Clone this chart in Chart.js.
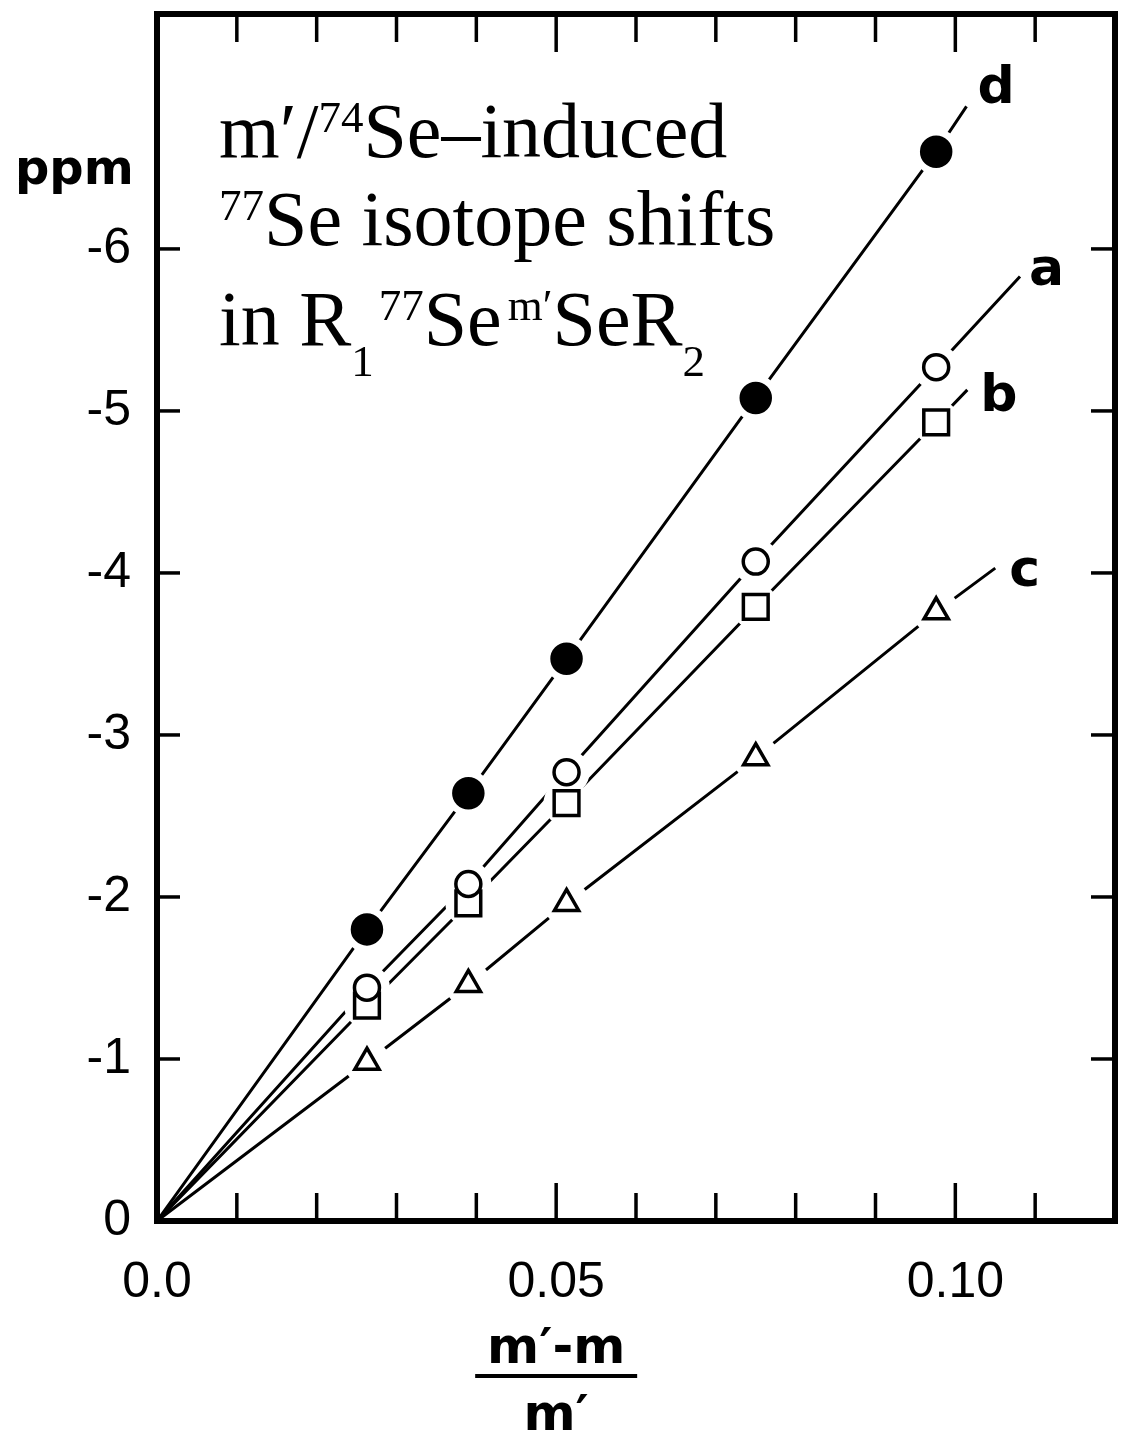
<!DOCTYPE html>
<html>
<head>
<meta charset="utf-8">
<title>77Se isotope shifts</title>
<script src="https://cdn.jsdelivr.net/npm/chart.js@4.4.1/dist/chart.umd.min.js"></script>
<style>
  html, body { margin: 0; padding: 0; background: #fff; }
  #wrap { width: 1122px; height: 1438px; }
</style>
</head>
<body>
<div id="wrap"><canvas id="shiftChart" width="1122" height="1438"></canvas></div>
<script>
// --- data ---
// x = (m'-m)/m' for m' = 76, 77, 78, 80, 82 (m = 74)
const massRatio = [0.0263, 0.0390, 0.0513, 0.0750, 0.0976];

// isotope shifts in ppm, one array per compound
const shiftA = [-1.44, -2.08, -2.77, -4.07, -5.27];
const shiftB = [-1.33, -1.96, -2.58, -3.79, -4.93];
const shiftC = [-0.98, -1.46, -1.96, -2.86, -3.76];
const shiftD = [-1.80, -2.64, -3.47, -5.08, -6.60];

const seriesLabels = ['a', 'b', 'c', 'd'];
// each line runs on a bit past its last point, up to the letter
const lineEndX = [0.1081, 0.1015, 0.1050, 0.1014];
const lineEndY = [-5.83, -5.13, -4.03, -6.88];

const xLabelValues = [0, 0.05, 0.10];
const xTickLabels = ['0.0', '0.05', '0.10'];
const yTickValues = [0, -1, -2, -3, -4, -5, -6];

// --- styles ---
const INK = '#000';
const allShifts = [shiftA, shiftB, shiftC, shiftD];
const markers = [
    { style: 'circle',   radius: 12.5, fill: '#fff' },
    { style: 'rect',     radius: 17.5, fill: '#fff' },
    { style: 'triangle', radius: 14,   fill: '#fff' },
    { style: 'circle',   radius: 14.5, fill: INK }
];
// where the letter sits relative to the end of its line (px)
const labelOffset = [[9, 9], [13, 21], [14, 18], [11, -3]];

const datasets = [];
allShifts.forEach((vals, i) => {
    const pts = massRatio.map((x, j) => ({ x, y: vals[j] }));
    const m = markers[i];
    // line from the origin through the points
    datasets.push({
        data: [{ x: 0, y: 0 }, ...pts, { x: lineEndX[i], y: lineEndY[i] }],
        showLine: true, borderColor: INK, borderWidth: 3, tension: 0,
        pointRadius: 0, order: 3
    });
    // white cut-out so the line stops short of the marker
    datasets.push({
        data: pts, showLine: false, pointStyle: 'circle', pointRadius: 23,
        pointBackgroundColor: '#fff', pointBorderWidth: 0, order: 2
    });
    datasets.push({
        data: pts, showLine: false, pointStyle: m.style, pointRadius: m.radius,
        pointBackgroundColor: m.fill, pointBorderColor: INK, pointBorderWidth: 3.5,
        order: 1
    });
});

// title lines: [text, 'n' | 'sup' | 'sub', extra gap before]
const titleLines = [
    [['m\u2032/', 'n', 0], ['74', 'sup', 0], ['Se\u2013induced', 'n', 0]],
    [['77', 'sup', 0], ['Se isotope shifts', 'n', 0]],
    [['in R', 'n', 0], ['1', 'sub', 0], ['77', 'sup', 5], ['Se', 'n', 0], ['m\u2032', 'sup', 6], ['SeR', 'n', 0], ['2', 'sub', 0]]
];

function line(ctx, x1, y1, x2, y2) {
    ctx.beginPath();
    ctx.moveTo(x1, y1);
    ctx.lineTo(x2, y2);
    ctx.stroke();
}

const decorPlugin = {
    id: 'decor',
    afterDraw(chart) {
        const { ctx, chartArea: a, scales: { x, y } } = chart;
        ctx.save();
        ctx.strokeStyle = INK;
        ctx.fillStyle = INK;

        // frame
        ctx.lineWidth = 6;
        ctx.strokeRect(a.left, a.top, a.right - a.left, a.bottom - a.top);

        // inward ticks, top and bottom every 0.01
        ctx.lineWidth = 3.5;
        x.ticks.forEach(t => {
            if (t.value <= 0 || t.value >= x.max - 1e-9) return;
            const px = x.getPixelForValue(t.value);
            const len = Math.round(t.value * 100) % 5 === 0 ? 38 : 28;
            line(ctx, px, a.bottom, px, a.bottom - len);
            line(ctx, px, a.top, px, a.top + len);
        });
        // left and right ticks on whole ppm
        yTickValues.filter(v => v !== 0).forEach(v => {
            const py = y.getPixelForValue(v);
            line(ctx, a.left, py, a.left + 23, py);
            line(ctx, a.right, py, a.right - 24, py);
        });

        // curve letters
        ctx.font = 'bold 52px "DejaVu Sans"';
        ctx.textAlign = 'left';
        ctx.textBaseline = 'alphabetic';
        seriesLabels.forEach((s, i) => {
            const px = x.getPixelForValue(lineEndX[i]) + labelOffset[i][0];
            const py = y.getPixelForValue(lineEndY[i]) + labelOffset[i][1];
            ctx.fillText(s, px, py);
        });

        // y unit
        ctx.font = 'bold 48px "DejaVu Sans"';
        ctx.fillText('ppm', 15, a.top + 170);

        // x title as a fraction
        const cx = x.getPixelForValue(0.05);
        ctx.font = 'bold 50px "DejaVu Sans"';
        ctx.textAlign = 'center';
        ctx.fillText('m\u2032-m', cx, a.bottom + 142);
        ctx.fillText('m\u2032', cx, a.bottom + 209);
        ctx.lineWidth = 4;
        line(ctx, cx - 81, a.bottom + 155, cx + 81, a.bottom + 155);

        // title block
        ctx.textAlign = 'left';
        const baselines = [143, 231, 331];
        titleLines.forEach((segs, li) => {
            let tx = a.left + 62;
            const base = a.top + baselines[li];
            segs.forEach(([txt, mode, gap]) => {
                tx += gap;
                let dy = 0;
                if (mode === 'n') {
                    ctx.font = '78px "Liberation Serif"';
                } else {
                    ctx.font = '45px "Liberation Serif"';
                    dy = mode === 'sup' ? -25 : 31;
                }
                ctx.fillText(txt, tx, base + dy);
                tx += ctx.measureText(txt).width;
            });
        });

        ctx.restore();
    }
};

const tickFont = { family: '"Liberation Sans"', size: 50 };

new Chart(document.getElementById('shiftChart'), {
    type: 'scatter',
    data: { datasets },
    options: {
        responsive: false,
        animation: false,
        devicePixelRatio: 1,
        layout: { autoPadding: false, padding: { left: 0, top: 14, right: 7, bottom: 0 } },
        plugins: {
            legend: { display: false },
            tooltip: { enabled: false }
        },
        scales: {
            x: {
                type: 'linear',
                min: 0,
                max: 0.12,
                afterFit: s => {
                    s.height = 217;
                    s.paddingLeft = 0;
                    s.paddingRight = 0;
                },
                grid: { display: false },
                border: { display: false },
                ticks: {
                    stepSize: 0.01,
                    autoSkip: false,
                    maxRotation: 0,
                    padding: 24,
                    color: INK,
                    font: tickFont,
                    callback: v => {
                        const k = xLabelValues.findIndex(t => Math.abs(t - v) < 1e-6);
                        return k >= 0 ? xTickLabels[k] : '';
                    }
                }
            },
            y: {
                type: 'linear',
                min: -7.45,
                max: 0,
                reverse: true,
                afterFit: s => {
                    s.width = 157;
                    s.paddingTop = 0;
                    s.paddingBottom = 0;
                },
                grid: { display: false },
                border: { display: false },
                ticks: {
                    stepSize: 1,
                    autoSkip: false,
                    padding: 18,
                    color: INK,
                    font: tickFont,
                    callback: v => yTickValues.includes(v) ? String(v) : ''
                }
            }
        }
    },
    plugins: [decorPlugin]
});
</script>
</body>
</html>
